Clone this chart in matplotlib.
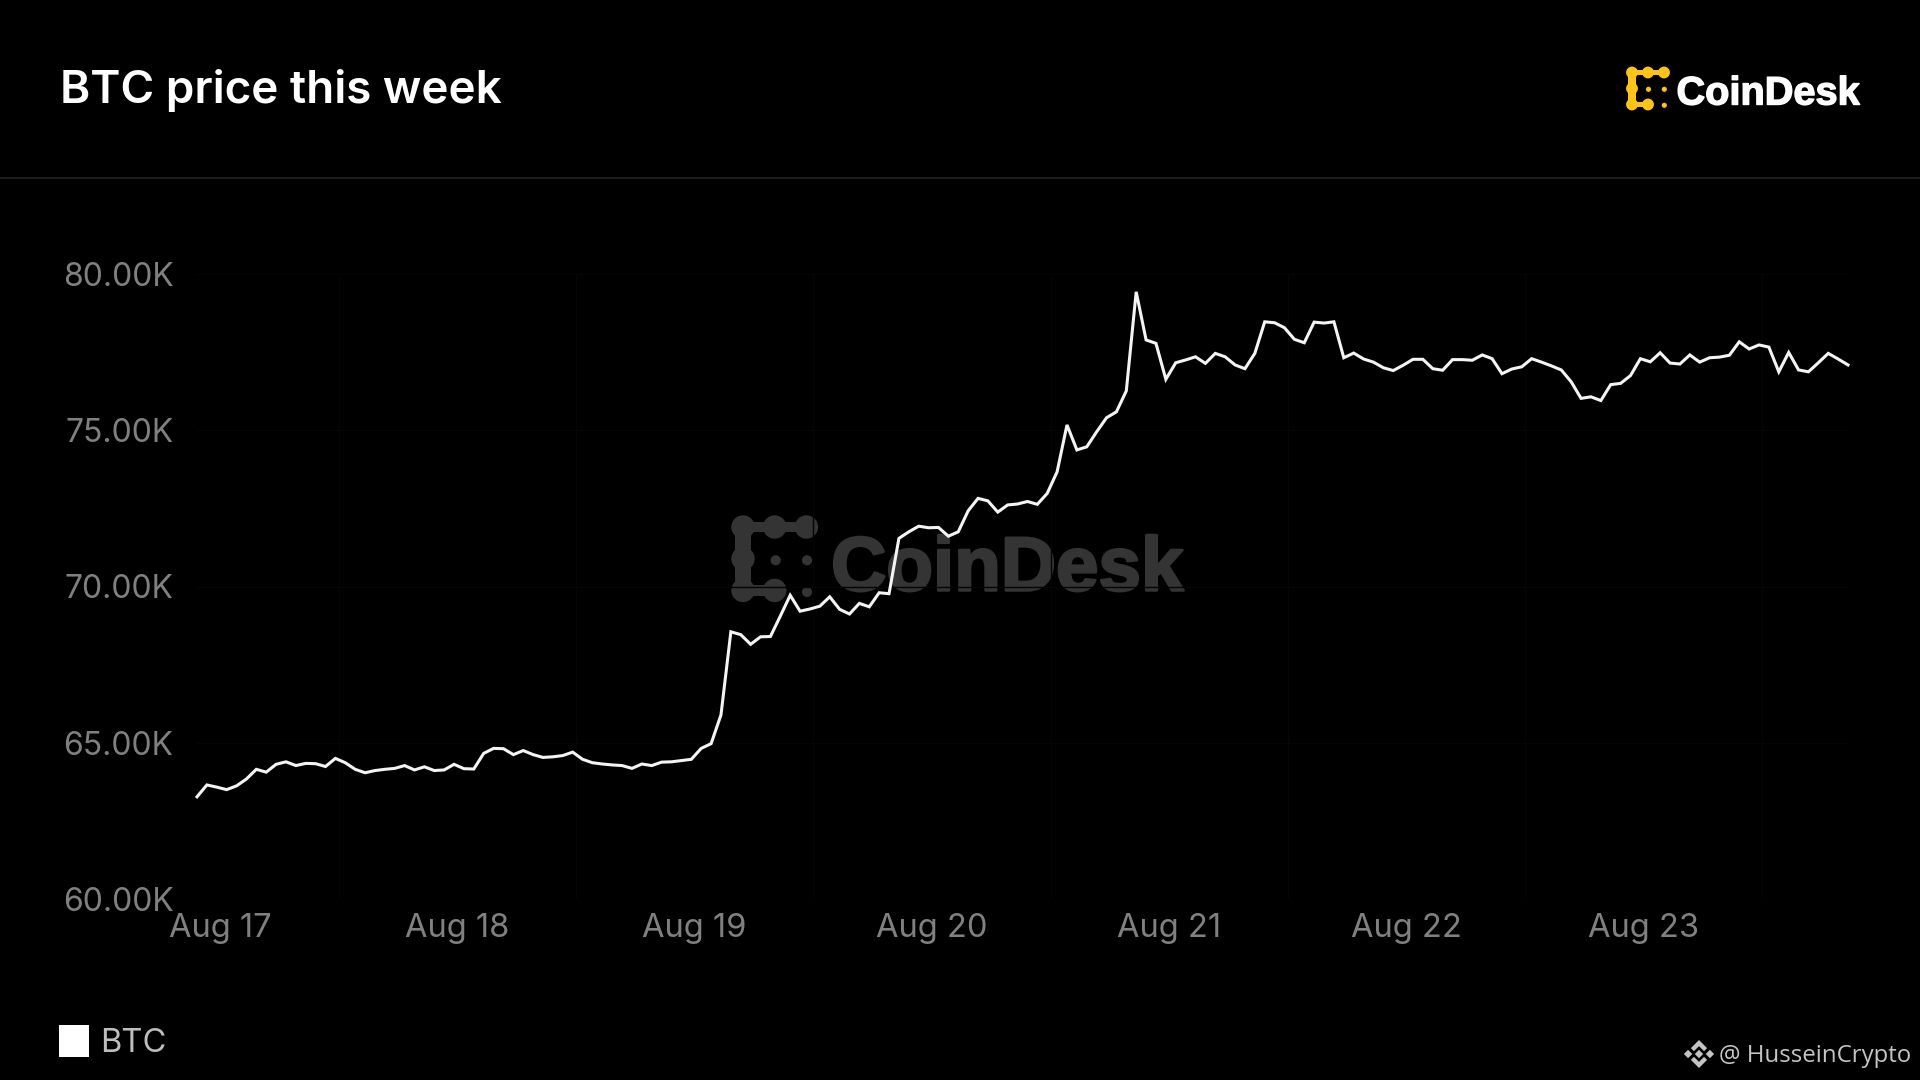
"""BTC price this week, dark CoinDesk card."""
import matplotlib
matplotlib.use("Agg")
import matplotlib.dates as mdates
import matplotlib.patheffects as pe
import matplotlib.pyplot as plt
import pandas as pd
from matplotlib.patches import Circle, Polygon, Rectangle
from matplotlib.ticker import FuncFormatter

TITLE = "BTC price this week"
SERIES_NAME = "BTC"
START = "2024-08-16 21:40"
Y_TICKS = [60000, 65000, 70000, 75000, 80000]
X_TICKS = ["2024-08-17", "2024-08-18", "2024-08-19", "2024-08-20",
           "2024-08-21", "2024-08-22", "2024-08-23"]
# hourly closes
PRICES = [
    63270, 63650, 63580, 63500, 63620, 63840, 64150, 64060, 64310, 64390,
    64270, 64340, 64330, 64240, 64500, 64360, 64150, 64040, 64110, 64150,
    64180, 64270, 64130, 64230, 64110, 64130, 64310, 64170, 64160, 64660,
    64820, 64810, 64620, 64750, 64620, 64530, 64550, 64590, 64700, 64470,
    64360, 64320, 64290, 64270, 64180, 64320, 64270, 64380, 64390, 64430,
    64470, 64820, 64970, 65890, 68550, 68460, 68150, 68390, 68400, 69050,
    69720, 69210, 69280, 69370, 69670, 69270, 69120, 69460, 69350, 69800,
    69770, 71540, 71750, 71930, 71880, 71890, 71610, 71750, 72420, 72820,
    72740, 72380, 72610, 72640, 72720, 72630, 72980, 73670, 75170, 74370,
    74470, 74950, 75400, 75590, 76260, 79430, 77890, 77780, 76630, 77160,
    77250, 77350, 77140, 77460, 77350, 77090, 76970, 77460, 78470, 78440,
    78280, 77910, 77800, 78460, 78430, 78470, 77320, 77470, 77280, 77180,
    77000, 76910, 77080, 77270, 77270, 76970, 76920, 77260, 77260, 77240,
    77410, 77290, 76810, 76960, 77030, 77290, 77180, 77060, 76930, 76550,
    76020, 76070, 75950, 76460, 76500, 76750, 77290, 77190, 77480, 77150,
    77120, 77410, 77180, 77320, 77340, 77400, 77830, 77600, 77730, 77660,
    76870, 77490, 76930, 76870, 77160, 77460, 77280, 77090,
]

W, H = 1920, 1080
BG = "#000000"
GREY = "#808080"
FONT = ["Inter", "DejaVu Sans"]
LOGO_FONT = ["Liberation Sans", "DejaVu Sans"]


def draw_logo(ax, x, y, s, icon_color, text_color, fontsize):
    """CoinDesk mark; x, y is the top-left blob centre, s the blob spacing."""
    blobs = [(0, 0), (1, 0), (2, 0), (0, 1), (0, 2), (1, 2)]
    dots = [(1.03, 1.05), (2.02, 1.05), (2.02, 2.05)]
    for bx, by in blobs:
        ax.add_patch(Circle((x + bx * s, y + by * s), .37 * s, color=icon_color, lw=0))
    # waists between the blobs
    ax.add_patch(Rectangle((x, y - .17 * s), 2 * s, .34 * s, color=icon_color, lw=0))
    ax.add_patch(Rectangle((x, y + 1.83 * s), s, .34 * s, color=icon_color, lw=0))
    ax.add_patch(Rectangle((x - .24 * s, y), .48 * s, 2 * s, color=icon_color, lw=0))
    for bx, by in dots:
        ax.add_patch(Circle((x + bx * s, y + by * s), .16 * s, color=icon_color, lw=0))
    # the source wordmark is heavier than Liberation bold, thicken it a bit
    label = ax.text(x + 2.78 * s, y + 2.0 * s, "CoinDesk", color=text_color, fontsize=fontsize,
                    fontweight="bold", family=LOGO_FONT, va="baseline", ha="left")
    label.set_path_effects([pe.withStroke(linewidth=fontsize * .035, foreground=text_color)])


def draw_binance(ax, cx, cy, r, color):
    """Small diamond badge next to the @ handle."""
    d = r * .3
    for ox, oy in [(0, 0), (-r * .78, 0), (r * .78, 0)]:
        ax.add_patch(Polygon([(cx + ox, cy + oy - d), (cx + ox + d, cy + oy),
                              (cx + ox, cy + oy + d), (cx + ox - d, cy + oy)],
                             color=color, lw=0))
    for sign in (-1, 1):
        ax.add_patch(Polygon([(cx, cy + sign * r), (cx + r * .58, cy + sign * r * .42),
                              (cx + r * .36, cy + sign * r * .2), (cx, cy + sign * r * .56),
                              (cx - r * .36, cy + sign * r * .2), (cx - r * .58, cy + sign * r * .42)],
                             color=color, lw=0))


fig = plt.figure(figsize=(W / 100, H / 100), dpi=100, facecolor=BG)

# full-figure layer in pixel coordinates for the card furniture
bg = fig.add_axes([0, 0, 1, 1], zorder=0)
bg.set_xlim(0, W)
bg.set_ylim(H, 0)
bg.axis("off")

bg.text(60, 103, TITLE, color="white", fontsize=33, fontweight="semibold",
        family=FONT, va="baseline", ha="left")
bg.plot([0, W], [178, 178], color="#232323", lw=1.2)

draw_logo(bg, 1632, 72.5, 16, "#fcc419", "white", 28.6)
draw_logo(bg, 743, 527, 31.7, "#343434", "#343434", 55)

bg.add_patch(Rectangle((59, 1025), 30, 32, color="white", lw=0))
bg.text(100, 1052, SERIES_NAME, color="#bdbdbd", fontsize=23.5, family=FONT,
        va="baseline", ha="left")

draw_binance(bg, 1699, 1054, 14, "#c4c4c4")
bg.text(1719, 1062, "@ HusseinCrypto", color="#c4c4c4", fontsize=17.3,
        family=["Open Sans", "DejaVu Sans"], va="baseline", ha="left")

# chart
dates = pd.date_range(START, periods=len(PRICES), freq="h")
left, right, top, bottom = 197, 1848, 274, 899
ax = fig.add_axes([left / W, 1 - bottom / H, (right - left) / W, (bottom - top) / H], zorder=1)
ax.patch.set_visible(False)
for spine in ax.spines.values():
    spine.set_visible(False)

ax.plot(dates, PRICES, color="#f4f4f4", lw=2.2, solid_joinstyle="miter", clip_on=False)
ax.set_xlim(dates[0], dates[-1])
ax.set_ylim(Y_TICKS[0], Y_TICKS[-1])

ax.set_yticks(Y_TICKS)
ax.yaxis.set_major_formatter(FuncFormatter(lambda v, _: f"{v / 1000:.2f}K"))
ax.set_xticks(pd.to_datetime(X_TICKS))
ax.xaxis.set_major_formatter(mdates.DateFormatter("%b %d"))
ax.xaxis.set_minor_locator(mdates.HourLocator(byhour=12))
ax.tick_params(axis="both", which="both", length=0, labelcolor=GREY)
ax.tick_params(axis="y", pad=17, labelsize=23)
ax.tick_params(axis="x", pad=10, labelsize=23.5)
for lab in ax.get_xticklabels() + ax.get_yticklabels():
    lab.set_family(FONT)

# the grid is barely there in the source
ax.grid(True, axis="y", color="#050505", lw=1)
ax.grid(True, axis="x", which="minor", color="#050505", lw=1)
ax.set_axisbelow(True)

fig.savefig("out.png", dpi=100, facecolor=BG)
